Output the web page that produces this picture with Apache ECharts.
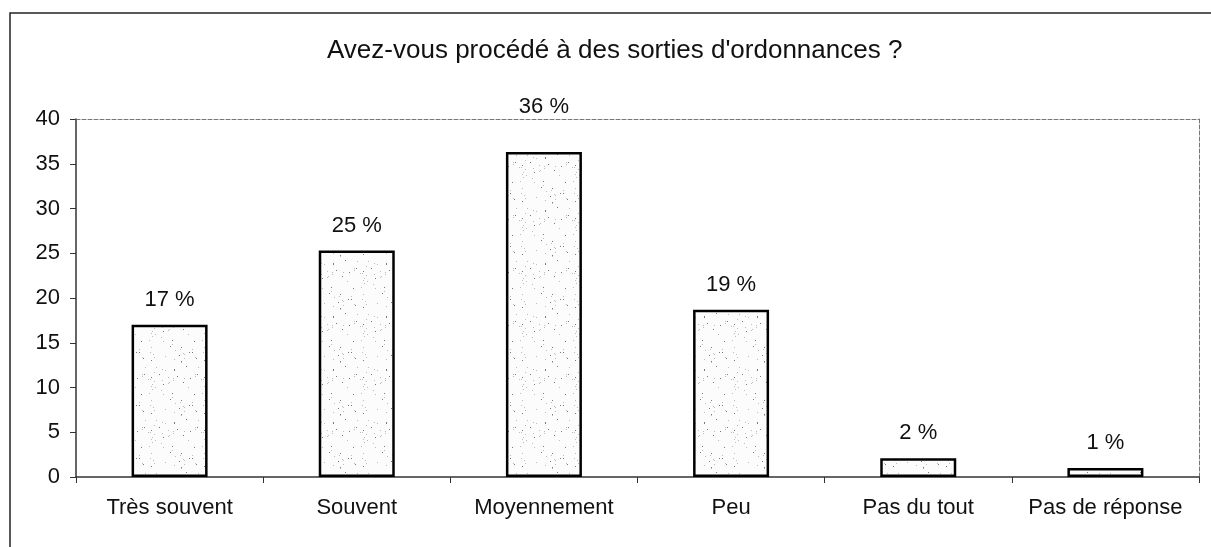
<!DOCTYPE html>
<html>
<head>
<meta charset="utf-8">
<script src="https://cdn.jsdelivr.net/npm/echarts@6/dist/echarts.min.js"></script>
<style>
  html, body { margin: 0; padding: 0; background: #fff; }
  #main { width: 1211px; height: 547px; }
</style>
</head>
<body>
<div id="main"></div>
<script>
// chart data
var categories = ['Très souvent', 'Souvent', 'Moyennement', 'Peu', 'Pas du tout', 'Pas de réponse'];
var percents = [17.0, 25.3, 36.3, 18.7, 2.1, 1.0];
var yTicks = { min: 0, max: 40, interval: 5 };

var FONT = '"Liberation Sans", Arial, sans-serif';

// stippled fill, like the old print
function makeStipple() {
  var c = document.createElement('canvas');
  c.width = 53; c.height = 53;
  var g = c.getContext('2d');
  g.fillStyle = '#fcfcfc';
  g.fillRect(0, 0, 53, 53);
  var s = 7;
  for (var i = 0; i < 60; i++) {
    s = (s * 73 + 41) % 2311;
    var x = s % 53;
    s = (s * 73 + 41) % 2311;
    var y = s % 53;
    g.fillStyle = (i % 3 === 0) ? '#7a7a7a' : '#bdbdbd';
    g.fillRect(x, y, 1, 1);
  }
  return c;
}

var stipple = makeStipple();

// the 36 % label sits higher, on the top frame line
var barData = percents.map(function (v, i) {
  if (i === 2) return { value: v, label: { distance: 34 } };
  return v;
});

var myChart = echarts.init(document.getElementById('main'));
var option = {
  backgroundColor: '#fff',
  animation: false,
  title: {
    text: "Avez-vous procédé à des sorties d'ordonnances ?",
    left: 322,
    top: 33,
    textStyle: { fontFamily: FONT, fontSize: 26, fontWeight: 'normal', color: '#111' }
  },
  graphic: [{
    type: 'rect',
    shape: { x: 10, y: 13, width: 1300, height: 700 },
    style: { fill: 'none', stroke: '#222', lineWidth: 1.5 },
    silent: true
  }],
  grid: { left: 76, right: 12, top: 119, bottom: 70 },
  xAxis: [{
    type: 'category',
    data: categories,
    axisLine: { lineStyle: { color: '#333', width: 1.5 } },
    axisTick: { show: true, length: 6, lineStyle: { color: '#333' } },
    axisLabel: { interval: 0, fontFamily: FONT, fontSize: 22, color: '#111', margin: 20 }
  }, {
    type: 'category',
    position: 'top',
    data: categories,
    axisLine: { onZero: false, lineStyle: { color: '#777', width: 1, type: [4, 2] } },
    axisTick: { show: false },
    axisLabel: { show: false }
  }],
  yAxis: [{
    type: 'value',
    min: yTicks.min,
    max: yTicks.max,
    interval: yTicks.interval,
    axisLine: { show: true, lineStyle: { color: '#333', width: 1.5 } },
    axisTick: { show: true, length: 6, lineStyle: { color: '#333' } },
    splitLine: { show: false },
    axisLabel: { fontFamily: FONT, fontSize: 22, color: '#111', margin: 16 }
  }, {
    type: 'value',
    position: 'right',
    min: yTicks.min,
    max: yTicks.max,
    interval: yTicks.interval,
    axisLine: { show: true, onZero: false, lineStyle: { color: '#777', width: 1, type: [4, 2] } },
    axisTick: { show: false },
    splitLine: { show: false },
    axisLabel: { show: false }
  }],
  series: [{
    type: 'bar',
    data: barData,
    barWidth: 76,
    itemStyle: {
      color: { image: stipple, repeat: 'repeat' },
      borderColor: '#000',
      borderWidth: 2.5
    },
    label: {
      show: true,
      position: 'top',
      distance: 14,
      fontFamily: FONT,
      fontSize: 22,
      color: '#111',
      formatter: function (p) { return Math.round(p.value) + ' %'; }
    }
  }]
};
myChart.setOption(option);
</script>
</body>
</html>
